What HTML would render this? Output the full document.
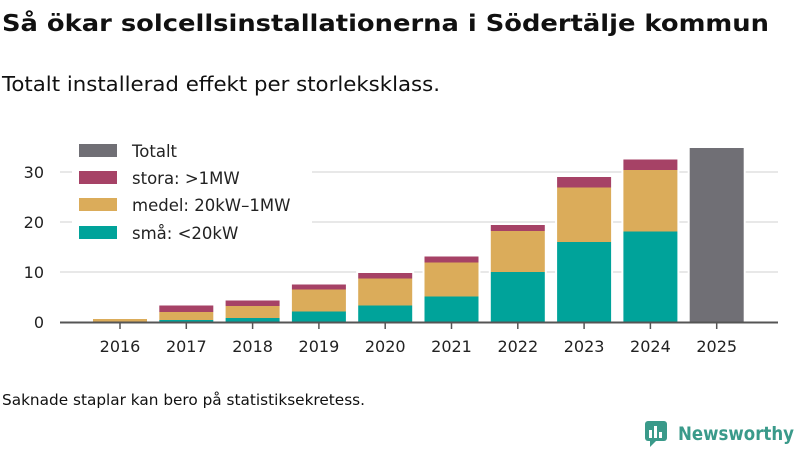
<!DOCTYPE html>
<html><head><meta charset="utf-8"><style>
body{margin:0;width:800px;height:450px;background:#fff;font-family:"DejaVu Sans","Liberation Sans",sans-serif;overflow:hidden}
</style></head><body>
<svg width="800" height="450" xmlns="http://www.w3.org/2000/svg" id="chart">
<text x="2" y="31" font-size="23" font-weight="bold" fill="#111" textLength="767" lengthAdjust="spacingAndGlyphs">Så ökar solcellsinstallationerna i Södertälje kommun</text>
<text x="2" y="91" font-size="20.5" fill="#111" textLength="438" lengthAdjust="spacingAndGlyphs">Totalt installerad effekt per storleksklass.</text>
<g id="grid"></g><g id="bars"></g><g id="axes"></g>
<g id="legend">
<rect x="72" y="138" width="240" height="112" fill="#fff"/>
<rect x="79" y="144" width="38" height="13" fill="#706f75"/>
<text x="132" y="157" font-size="16.5" fill="#222">Totalt</text>
<rect x="79" y="171" width="38" height="13" fill="#a64266"/>
<text x="132" y="184" font-size="16.5" fill="#222">stora: &gt;1MW</text>
<rect x="79" y="198" width="38" height="13" fill="#dbac5a"/>
<text x="132" y="211" font-size="16.5" fill="#222">medel: 20kW–1MW</text>
<rect x="79" y="226" width="38" height="13" fill="#00a39a"/>
<text x="132" y="239" font-size="16.5" fill="#222">små: &lt;20kW</text>
</g>
<text x="2" y="405" font-size="15" fill="#111" textLength="363" lengthAdjust="spacingAndGlyphs">Saknade staplar kan bero på statistiksekretess.</text>
<g>
<rect x="645" y="421" width="22" height="20" rx="3" fill="#3a9a8a"/>
<path d="M650 441 L650 447 L656 441 Z" fill="#3a9a8a"/>
<rect x="649" y="430" width="3" height="8" fill="#fff"/><rect x="654" y="426" width="3" height="12" fill="#fff"/><rect x="659" y="432" width="3" height="6" fill="#fff"/>
<text x="678" y="440" font-size="19" font-weight="bold" fill="#3a9a8a" textLength="116" lengthAdjust="spacingAndGlyphs">Newsworthy</text>
</g>
</svg>
<script>
const years=["2016","2017","2018","2019","2020","2021","2022","2023","2024","2025"];
const sma=[0.1,0.4,0.8,2.1,3.3,5.1,10.0,16.0,18.1,null];
const medel=[0.5,1.6,2.4,4.4,5.4,6.8,8.2,10.9,12.3,null];
const stora=[0,1.3,1.1,1.0,1.1,1.2,1.2,2.1,2.1,null];
const totalt=[null,null,null,null,null,null,null,null,null,34.8];
const yTicks=[0,10,20,30];
const NS="http://www.w3.org/2000/svg";
const y0=322,pxPer=5.0,x0=120,step=66.3,bw=54;
const y=v=>y0-v*pxPer, x=i=>x0+i*step;
function mk(t,a,p){const e=document.createElementNS(NS,t);for(const k in a)e.setAttribute(k,a[k]);p.appendChild(e);return e;}
const grid=document.getElementById('grid'),bars=document.getElementById('bars'),axes=document.getElementById('axes');
yTicks.forEach(v=>{
 if(v>0){const l=mk('line',{x1:60,x2:778,y1:y(v),y2:y(v),stroke:'#e0e0e0','stroke-width':1.5},grid);
 
 }
 const t=mk('text',{x:44,y:y(v)+6,'font-size':16,fill:'#222','text-anchor':'end'},axes);t.textContent=v;
 
 
});
years.forEach((yr,i)=>{
 const cx=x(i),bx=cx-bw/2;
 const segs=[[sma[i],'#00a39a','sma'],[medel[i],'#dbac5a','medel'],[stora[i],'#a64266','stora'],[totalt[i],'#706f75','totalt']];
 let base=0,top=0;
 segs.forEach(([v])=>{if(v!=null&&v>0)top+=v;});
 if(top>0){mk('rect',{x:bx-2,y:y(top)-2,width:bw+4,height:top*pxPer+2,fill:'#fff'},bars);}
 segs.forEach(([v,c,n])=>{ if(v==null||v<=0)return;
  const r=mk('rect',{x:bx,y:y(base+v),width:bw,height:v*pxPer,fill:c},bars);
  
  
  base+=v;});
 mk('line',{x1:cx,x2:cx,y1:y0,y2:y0+7,stroke:'#555','stroke-width':1.5},axes);
 const t=mk('text',{x:cx,y:352,'font-size':16,fill:'#222','text-anchor':'middle'},axes);t.textContent=yr;
 
 
});
const ax=mk('line',{x1:60,x2:778,y1:y0+0.5,y2:y0+0.5,stroke:'#555','stroke-width':2},axes);


</script>
</body></html>
